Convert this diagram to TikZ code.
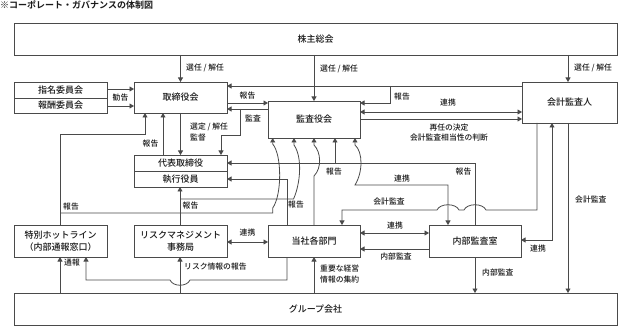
\documentclass[tikz,border=0pt]{standalone}
\usepackage{fontspec}
\setmainfont{Noto Sans CJK JP}[UprightFont=* Medium,BoldFont=* Bold]
\usetikzlibrary{arrows.meta}
\definecolor{ln}{HTML}{4A4A4A}
\definecolor{tx}{HTML}{1A1A1A}
\begin{document}
\begin{tikzpicture}[x=1pt,y=-1pt,
 box/.style={draw=ln,fill=white,line width=0.8pt,inner sep=0pt,outer sep=0pt,text=tx,font=\fontsize{9}{12}\selectfont,align=center},
 lbl/.style={inner sep=0pt,text=tx,font=\fontsize{7.8}{9}\selectfont,align=left},
 wire/.style={draw=ln,line width=0.8pt},
 arr/.style={wire,-{Triangle[length=4.5pt,width=5pt]}},
 darr/.style={wire,{Triangle[length=4.5pt,width=5pt]}-{Triangle[length=4.5pt,width=5pt]}},
]
\useasboundingbox (0,0) rectangle (619,326);
\node[anchor=west,inner sep=0pt,text=tx,font=\bfseries\fontsize{9}{11}\selectfont] (title) at (0,5) {※コーポレート・ガバナンスの体制図};

% boxes
\node[box,minimum width=603pt,minimum height=32pt] (kabu) at (315.5,39) {株主総会};
\node[box,minimum width=93pt,minimum height=16pt] (shimei) at (60.5,90) {指名委員会};
\node[box,minimum width=93pt,minimum height=15pt] (houshu) at (60.5,105.5) {報酬委員会};
\node[box,minimum width=93pt,minimum height=31pt] (tori) at (180.5,97.5) {取締役会};
\node[box,minimum width=92pt,minimum height=37pt] (kansa) at (314,119.5) {監査役会};
\node[box,minimum width=95pt,minimum height=41pt] (kaikei) at (569.5,102.5) {会計監査人};
\node[box,minimum width=93pt,minimum height=16pt] (daihyo) at (180.5,163) {代表取締役};
\node[box,minimum width=93pt,minimum height=16pt] (shikko) at (180.5,179) {執行役員};
\node[box,minimum width=93pt,minimum height=32pt] (hotline) at (60.5,241) {特別ホットライン\\（内部通報窓口）};
\node[box,minimum width=93pt,minimum height=32pt] (risk) at (180.5,241) {リスクマネジメント\\事務局};
\node[box,minimum width=92pt,minimum height=32pt] (bumon) at (314,241) {当社各部門};
\node[box,minimum width=92pt,minimum height=32pt] (naibu) at (475,241) {内部監査室};
\node[box,minimum width=603pt,minimum height=32pt] (group) at (315.5,309) {グループ会社};

% shareholders
\draw[arr] (kabu.south -| tori.north) -- (tori.north);
\node[lbl,anchor=west] (l1) at (186,68) {選任 / 解任};
\draw[arr] (kabu.south -| kansa.north) -- (kansa.north);
\node[lbl,anchor=west] (l2) at (320,69) {選任 / 解任};
\draw[arr] (kabu.south -| 568,0) -- (kaikei.north -| 568,0);
\node[lbl,anchor=west] (l3) at (574,68) {選任 / 解任};

% committees
\draw[arr] (shimei.east |- 0,89) -- (tori.west |- 0,89);
\draw[arr] (houshu.east |- 0,106) -- (tori.west |- 0,106);
\node[lbl] (l4) at (120.5,97.5) {勧告};

% auditor reports
\draw[arr] (kaikei.west |- 0,86) -- (tori.east |- 0,86);
\draw[arr] (390,86) -- (390,103) -- (kansa.east |- 0,103);
\node[lbl,anchor=west] (l5) at (394,96.5) {報告};
\draw[darr] (kansa.east |- 0,112) -- (kaikei.west |- 0,112);
\node[lbl] (l6) at (448,103) {連携};
\draw[arr] (kansa.east |- 0,119) -- (kaikei.west |- 0,119);
\node[lbl] (l7) at (449,127.5) {再任の決定};
\node[lbl] (l8) at (449,138) {会計監査相当性の判断};

% board <-> audit board
\draw[arr] (tori.east |- 0,103) -- (kansa.west |- 0,103);
\node[lbl] (l9) at (247.5,96) {報告};
\draw[arr] (kansa.west |- 0,109) -- (tori.east |- 0,109);
\draw[arr] (240,109) -- (240,135) -- (221,135) -- (daihyo.north -| 221,0);
\node[lbl] (l10) at (253,118) {監査};

% board <-> representative
\draw[arr] (tori.south) -- (daihyo.north);
\node[lbl,anchor=west] (l11) at (190,127) {選定 / 解任};
\node[lbl,anchor=west] (l12) at (190,137.5) {監督};
\draw[arr] (daihyo.north -| 163,0) -- (tori.south -| 163,0);
\node[lbl] (l13) at (150.5,144) {報告};

% hotline reports
\draw[arr] (hotline.north -| 60,0) -- (60,134) -- (145,134) -- (tori.south -| 145,0);
\draw[arr] (60,213) -- (272.7,213) -- (272.7,208) .. controls (282,195) and (282,155) .. (272.7,144) -- (kansa.south -| 272.7,0);
\node[lbl] (l14) at (71,207) {報告};

% risk management reports
\draw[arr] (risk.north -| 180,0) -- (shikko.south -| 180,0);
\draw[arr] (180,199) -- (293.5,199) .. controls (300,185) and (303,158) .. (294,145) -- (kansa.south -| 294,0);
\node[lbl] (l15) at (190.5,206) {報告};

% departments reports
\draw[arr] (bumon.north -| 287,0) -- (287,179) -- (shikko.east |- 0,179);
\draw[arr] (bumon.north -| 314,0) -- (314,176) .. controls (322,168) and (321,152) .. (314,145) -- (kansa.south -| 314,0);
\node[lbl] (l16) at (296,205) {報告};

% internal audit reports
\draw[arr] (naibu.north -| 475,0) -- (475,163) -- (daihyo.east |- 0,163);
\draw[arr] (335,163) -- (kansa.south -| 335,0);
\node[lbl] (l17) at (334,172) {報告};
\node[lbl] (l18) at (463.5,172) {報告};

% audit board <-> internal audit
\draw[darr] (naibu.north -| 448,0) -- (448,185) -- (355,185) .. controls (363,172) and (363,152) .. (355,145) -- (kansa.south -| 355,0);
\node[lbl] (l19) at (402,178.5) {連携};

% accounting audit to departments
\draw[arr] (kaikei.south -| 537,0) -- (537,210) -- (486,210) .. controls (483,203) and (467,203) .. (464,210) -- (459,210) .. controls (456,203) and (440,203) .. (437,210) -- (342,210) -- (bumon.north -| 342,0);
\node[lbl] (l20) at (389,202) {会計監査};

% internal audit <-> auditor
\draw[darr] (naibu.east |- 0,240) -- (552,240) -- (kaikei.south -| 552,0);
\node[lbl] (l21) at (538,249) {連携};

% to group companies
\draw[arr] (kaikei.south -| 568,0) -- (group.north -| 568,0);
\node[lbl,anchor=west] (l22) at (575,200) {会計監査};
\draw[arr] (naibu.south) -- (group.north -| naibu.south);
\node[lbl,anchor=west] (l23) at (482,273) {内部監査};

% departments <-> internal audit
\draw[darr] (bumon.east |- 0,233) -- (naibu.west |- 0,233);
\node[lbl] (l24) at (395,225.5) {連携};
\draw[arr] (naibu.west |- 0,249) -- (bumon.east |- 0,249);
\node[lbl] (l25) at (396,257) {内部監査};

% risk <-> departments
\draw[darr] (risk.east |- 0,242) -- (bumon.west |- 0,242);
\node[lbl] (l26) at (247.5,233) {連携};

% departments -> hotline
\draw[arr] (bumon.south -| 287,0) -- (287,280) -- (190,280) .. controls (187,287) and (173,287) .. (170,280) -- (86,280) -- (hotline.south -| 86,0);
\node[lbl,anchor=west] (l27) at (184,267) {リスク情報の報告};

% group company reports
\draw[arr] (group.north -| 180,0) -- (risk.south -| 180,0);
\draw[arr] (group.north -| 60,0) -- (hotline.south -| 60,0);
\node[lbl,anchor=west] (l28) at (64,263) {通報};
\draw[arr] (group.north -| 314,0) -- (bumon.south -| 314,0);
\node[lbl,anchor=west] (l29) at (320,269) {重要な経営};
\node[lbl,anchor=west] (l30) at (320,280) {情報の集約};
\end{tikzpicture}
\end{document}
